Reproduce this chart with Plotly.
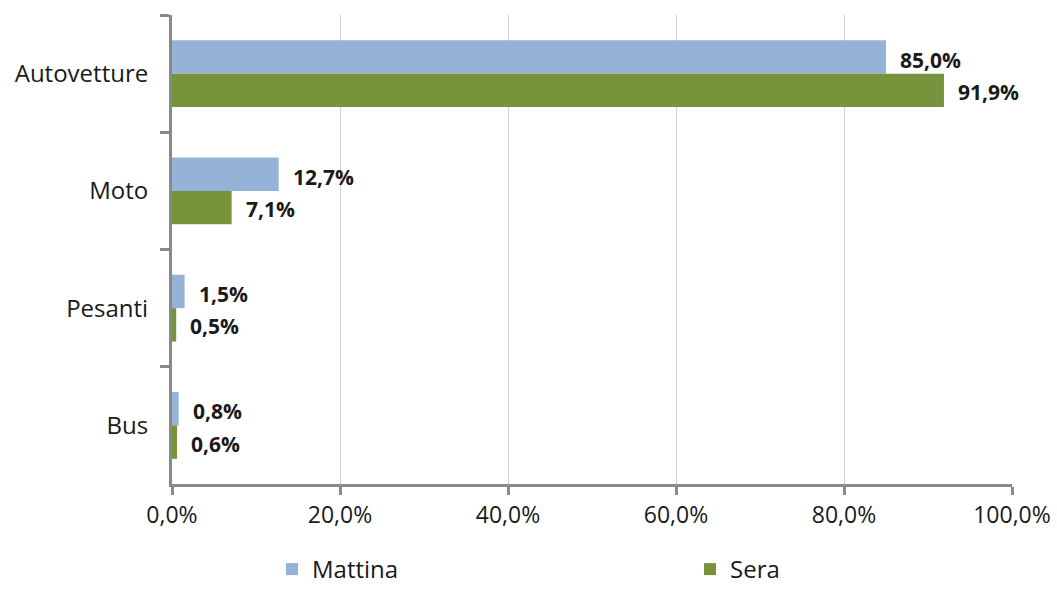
import plotly.graph_objects as go

categories = ["Autovetture", "Moto", "Pesanti", "Bus"]
mattina = [85.0, 12.7, 1.5, 0.8]
sera = [91.9, 7.1, 0.5, 0.6]
x_ticks = [0, 20, 40, 60, 80, 100]
x_tick_labels = ["0,0%", "20,0%", "40,0%", "60,0%", "80,0%", "100,0%"]

C_MATTINA = "#95B3D7"
C_SERA = "#77933C"
AXIS = "#898989"
FONT = "'Open Sans', sans-serif"
TEXT = "#1a1a1a"

fig = go.Figure()
fig.add_trace(go.Bar(y=categories, x=mattina, orientation="h", name="Mattina",
                     marker=dict(color=C_MATTINA, line=dict(width=0)),
                     legend="legend"))
fig.add_trace(go.Bar(y=categories, x=sera, orientation="h", name="Sera",
                     marker=dict(color=C_SERA, line=dict(width=0)),
                     legend="legend2"))


def fmt(v):
    return f"{v:.1f}".replace(".", ",") + "%"


# value labels to the right of each bar
for i, cat in enumerate(categories):
    for val, off in ((mattina[i], -0.12), (sera[i], 0.155)):
        fig.add_annotation(x=val, y=i + off, xref="x", yref="y", text=fmt(val),
                           showarrow=False, xanchor="left", xshift=12,
                           font=dict(family=FONT, size=21, color=TEXT, weight="bold"))

legend_style = dict(xref="container", yref="container", y=0.0, yanchor="bottom",
                    xanchor="left", bgcolor="rgba(0,0,0,0)",
                    font=dict(family=FONT, size=24, color=TEXT))

fig.update_layout(
    width=1057, height=592,
    margin=dict(l=172, r=45, t=15, b=108, autoexpand=False),
    plot_bgcolor="white", paper_bgcolor="white",
    barmode="group", bargap=0.43, bargroupgap=0,
    separators=",.",
    font=dict(family=FONT, size=22, color=TEXT),
    showlegend=True,
    legend=dict(x=272 / 1057, **legend_style),
    legend2=dict(x=690 / 1057, **legend_style),
)
fig.update_xaxes(range=[0, 100], tickvals=x_ticks, ticktext=x_tick_labels,
                 showgrid=True, gridcolor="#d0d0d0", gridwidth=1,
                 showline=True, linecolor=AXIS, linewidth=3,
                 ticks="outside", ticklen=8, tickwidth=3, tickcolor=AXIS,
                 tickfont=dict(size=23), tickangle=0, automargin=False,
                 zeroline=False)
fig.update_yaxes(categoryorder="array", categoryarray=categories, autorange="reversed",
                 showgrid=False, showline=True, linecolor=AXIS, linewidth=3,
                 ticks="outside", ticklen=9, tickwidth=3, tickcolor=AXIS,
                 tickson="boundaries", ticklabelstandoff=16, automargin=False,
                 tickfont=dict(size=24))

fig.write_html("out.html")
